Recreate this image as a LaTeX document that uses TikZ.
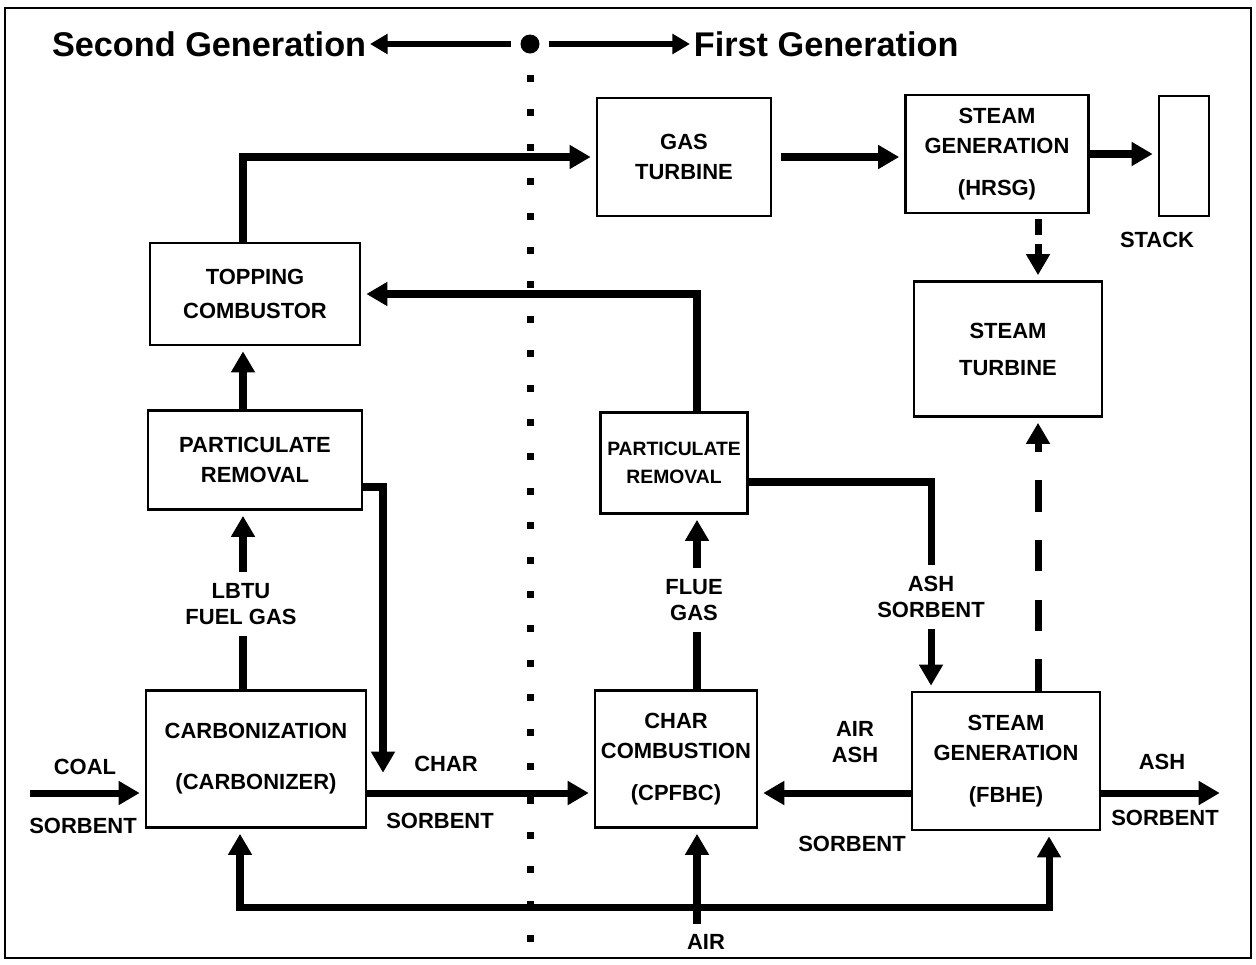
\documentclass[tikz,border=0pt]{standalone}
\usepackage{fontspec}
\setmainfont{Liberation Sans}
\usetikzlibrary{calc,arrows.meta,positioning}

\begin{document}
\begin{tikzpicture}[
  x=0.02cm,
  y=-0.02cm,
  mybox/.style 2 args={
    draw,
    line width=1.2pt,
    minimum width=#1*0.02cm,
    minimum height=#2*0.02cm,
    align=center,
    font=\bfseries\fontsize{12.5}{17}\selectfont
    },
  mylabel/.style={
    align=center,
    inner sep=6pt,
    font=\bfseries\fontsize{12.5}{15}\selectfont
    },
  myflow/.style={
    line width=4pt,
    -{Triangle[length=12pt,width=13pt]},
    shorten >=3pt
    },
  myline/.style={
    line width=4pt
    },
  mytitle/.style={
    font=\bfseries\fontsize{19.5}{24}\selectfont,
    inner sep=2pt
    }
]

\useasboundingbox (0,0) rectangle (1256,964);
\draw[line width=1.2pt] (5,8) rectangle (1251,958);

\node[circle,fill,inner sep=0pt,minimum size=19*0.02cm] (gen) at (530,44) {};
\node[mytitle,anchor=east] (second) at (370,44) {Second Generation};
\node[mytitle,anchor=west] (first) at (690,44) {First Generation};
\draw[line width=3.4pt,-{Triangle[length=10pt,width=11pt]},shorten <=5pt] (gen) -- (second);
\draw[line width=3.4pt,-{Triangle[length=10pt,width=11pt]},shorten <=5pt] (gen) -- (first);

\foreach \i in {0,...,25}
  \fill (527,75+34.4*\i) rectangle +(7,7);

\node[mybox={174}{118}] (gasturb) at (684,157) {GAS\\TURBINE};
\node[mybox={183}{118}] (hrsg) at (997,154) {STEAM\\GENERATION\\[7pt](HRSG)};
\node[mybox={50}{120}] (stack) at (1184,156) {};
\node[mylabel] (stacklbl) at (1157,240) {STACK};
\node[mybox={210}{102}] (topcomb) at (255,294) {TOPPING\\[2pt]COMBUSTOR};
\node[mybox={188}{135}] (stturb) at (1008,349) {STEAM\\[4pt]TURBINE};
\node[mybox={214}{99}] (partL) at (255,460) {PARTICULATE\\REMOVAL};
\node[mybox={147}{101},font=\bfseries\fontsize{11}{16}\selectfont] (partR) at (674,463) {PARTICULATE\\REMOVAL};
\node[mybox={220}{137}] (carb) at (256,759) {CARBONIZATION\\[12pt](CARBONIZER)};
\node[mybox={151}{137}] (charcomb) at (676,759) {CHAR\\COMBUSTION\\[7pt](CPFBC)};
\node[mybox={188}{138}] (fbhe) at (1006,761) {STEAM\\GENERATION\\[7pt](FBHE)};

\coordinate (lcol) at (243,0);
\coordinate (mcol) at (697,0);
\coordinate (rcol) at (1038,0);
\coordinate (brow) at (0,793);

\draw[myflow] (topcomb.north -| lcol) |- (gasturb.west);
\draw[myflow,shorten <=5pt] (gasturb.east) -- (gasturb.east -| hrsg.west);
\draw[myflow] (hrsg.east) -- (hrsg.east -| stack.west);
\draw[myflow,dash pattern=on 9pt off 5pt,shorten <=3pt] (hrsg.south -| rcol) -- (stturb.north -| rcol);
\draw[myflow] (partR.north -| mcol) |- (topcomb.east);
\draw[myflow] (partL.north -| lcol) -- (topcomb.south -| lcol);

\node[mylabel] (lbtu) at (241,604) {LBTU\\FUEL GAS};
\draw[myline] (carb.north -| lcol) -- (lbtu.south -| lcol);
\draw[myflow] (lbtu.north -| lcol) -- (partL.south -| lcol);

\coordinate (charin) at (383,778);
\draw[myflow] ($(partL.east)+(0,27)$) -| (charin);
\node[mylabel] (charlbl) at (446,764) {CHAR};
\node[mylabel] (sorblbl1) at (440,821) {SORBENT};
\draw[myflow] (carb.east |- brow) -- (charcomb.west |- brow);

\coordinate (coalin) at (30,793);
\draw[myflow] (coalin) -- (carb.west |- brow);
\node[mylabel] (coallbl) at (85,767) {COAL};
\node[mylabel] (sorblbl0) at (83,826) {SORBENT};

\node[mylabel] (flue) at (694,600) {FLUE\\GAS};
\draw[myline] (charcomb.north -| mcol) -- (flue.south -| mcol);
\draw[myflow] (flue.north -| mcol) -- (partR.south -| mcol);

\node[mylabel] (ashsorb) at (931,597) {ASH\\SORBENT};
\draw[myline] ($(partR.east)+(0,19)$) -| (ashsorb.north);
\draw[myflow] (ashsorb.south) -- (fbhe.north -| ashsorb);
\draw[myflow,dash pattern=on 18pt off 16pt] (fbhe.north -| rcol) -- (stturb.south -| rcol);

\draw[myflow] (fbhe.west |- brow) -- (charcomb.east |- brow);
\node[mylabel] (airash) at (855,742) {AIR\\ASH};
\node[mylabel] (sorblbl2) at (852,844) {SORBENT};

\coordinate (ashout) at (1225,793);
\draw[myflow] (fbhe.east |- brow) -- (ashout);
\node[mylabel] (ashlbl) at (1162,762) {ASH};
\node[mylabel] (sorblbl3) at (1165,818) {SORBENT};

\coordinate (airL) at (240,907);
\coordinate (airR) at (1049,907);
\draw[myflow,{Triangle[length=12pt,width=13pt]}-{Triangle[length=12pt,width=13pt]},shorten <=3pt]
  (carb.south -| airL) -- (airL) -- (airR) -- (fbhe.south -| airR);
\node[mylabel] (air) at (706,942) {AIR};
\draw[myflow] (air.north -| mcol) -- (charcomb.south -| mcol);

\end{tikzpicture}
\end{document}
